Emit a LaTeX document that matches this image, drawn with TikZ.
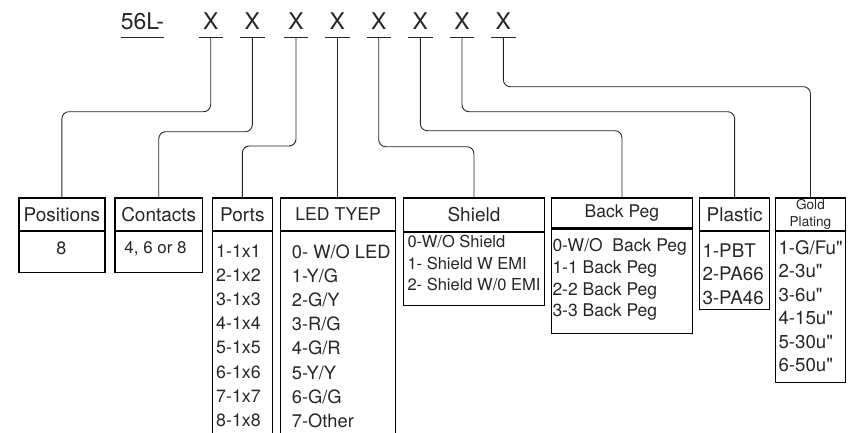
\documentclass[tikz,border=0pt]{standalone}
\usepackage{fontspec}
\setmainfont{TeX Gyre Heros}
\begin{document}
\begin{tikzpicture}[x=1pt,y=-1pt,
  big/.style={font=\fontsize{23}{27}\selectfont, text=black!85, inner sep=0pt, text height=17pt, text depth=8.4pt},
  box/.style={draw=black, line width=1.2pt, inner sep=0pt, anchor=north west, text=black!85},
  hd/.style={font=\fontsize{19}{22}\selectfont},
  txt/.style={inner sep=0pt, text=black!85, align=left, anchor=north west},
  conn/.style={draw=black!85, line width=0.9pt, rounded corners=7pt},
  ul/.style={draw=black!85, line width=0.9pt}]
\useasboundingbox (0,0) rectangle (848,432);
\clip (0,0) rectangle (848,432);

% code header
\node[big, anchor=base west] (code) at (120.7,29.3) {56L-};
\draw[ul] (code.south west) -- (code.south east);
\foreach \i/\x in {1/210.7,2/252.3,3/296,4/337.3,5/378.7,6/420.3,7/462,8/503.3}{
  \node[big, anchor=base, minimum width=24pt] (x\i) at (\x,29.3) {X};
  \draw[ul] (x\i.south west) -- (x\i.south east);
}

% boxes
\node[box, hd, minimum width=86pt, minimum height=32.7pt] (posh) at (18.3,197.3) {Positions};
\node[box, minimum width=86pt, minimum height=40.7pt] (posb) at (posh.south west) {};
\node[box, hd, minimum width=87.7pt, minimum height=32.7pt] (conh) at (114.3,197.3) {Contacts};
\node[box, minimum width=87.7pt, minimum height=40.7pt] (conb) at (conh.south west) {};
\node[box, hd, minimum width=60pt, minimum height=32.7pt] (porh) at (211.7,197.3) {Ports};
\node[box, minimum width=60pt, minimum height=215pt] (porb) at (porh.south west) {};
\node[box, font=\fontsize{17.6}{21}\selectfont, minimum width=115pt, minimum height=32.7pt] (ledh) at (280,197.3) {LED TYEP};
\node[box, minimum width=115pt, minimum height=215pt] (ledb) at (ledh.south west) {};
\node[box, hd, minimum width=141.3pt, minimum height=33.4pt] (shih) at (402.7,197.3) {Shield};
\node[box, minimum width=141.3pt, minimum height=73.3pt] (shib) at (shih.south west) {};
\node[box, font=\fontsize{17.5}{21}\selectfont, minimum width=141.3pt, minimum height=30pt] (bach) at (550.7,197.3) {Back Peg};
\node[box, minimum width=141.3pt, minimum height=104.4pt] (bacb) at (bach.south west) {};
\node[box, hd, minimum width=70pt, minimum height=32.7pt] (plah) at (699,197.3) {Plastic};
\node[box, minimum width=70pt, minimum height=77.3pt] (plab) at (plah.south west) {};
\node[box, font=\fontsize{13.6}{17.3}\selectfont, align=center, minimum width=70.3pt, minimum height=32.7pt] (golh) at (774.7,197.3) {Gold\\Plating};
\node[box, minimum width=70.3pt, minimum height=151pt] (golb) at (golh.south west) {};

% contents
\node[txt, anchor=center, font=\fontsize{18}{22}\selectfont] (posv) at (61.3,248.3) {8};
\node[txt, anchor=center, font=\fontsize{16.9}{20}\selectfont] (conv) at (155.5,248.3) {4, 6 or 8};
\node[txt, font=\fontsize{17.8}{24.2}\selectfont] (porv) at (216,244.3) {1-1x1\\2-1x2\\3-1x3\\4-1x4\\5-1x5\\6-1x6\\7-1x7\\8-1x8};
\node[txt, font=\fontsize{18.3}{24.2}\selectfont] (ledv) at (291.7,244.2) {0- W/O LED\\1-Y/G\\2-G/Y\\3-R/G\\4-G/R\\5-Y/Y\\6-G/G\\7-Other};
\node[txt, font=\fontsize{16.5}{21.7}\selectfont] (shiv) at (407.3,235) {0-W/O Shield\\1- Shield W EMI\\2- Shield W/0 EMI};
\node[txt, font=\fontsize{17.5}{21.9}\selectfont] (bacv) at (552.3,238) {0-W/O\ \ Back Peg\\1-1 Back Peg\\2-2 Back Peg\\3-3 Back Peg};
\node[txt, font=\fontsize{18.8}{23.7}\selectfont] (plav) at (702.3,243.2) {1-PBT\\2-PA66\\3-PA46};
\node[txt, font=\fontsize{18.7}{23.5}\selectfont] (golv) at (778.3,240) {1-G/Fu\textquotedbl\\2-3u\textquotedbl\\3-6u\textquotedbl\\4-15u\textquotedbl\\5-30u\textquotedbl\\6-50u\textquotedbl};

% connectors
\draw[conn] (x1.south) -- (x1.south |- 0,111.7) -| (posh.north);
\draw[conn] (x2.south) -- (x2.south |- 0,131.7) -| (conh.north);
\draw[conn] (x3.south) -- (x3.south |- 0,146) -| (porh.north);
\draw[conn] (x4.south) -- (x4.south |- ledh.north);
\draw[conn] (x5.south) -- (x5.south |- 0,146.7) -| (shih.north);
\draw[conn] (x6.south) -- (x6.south |- 0,130.7) -| (bach.north);
\draw[conn] (x7.south) -- (x7.south |- 0,111.7) -| (plah.north);
\draw[conn] (x8.south) -- (x8.south |- 0,86.7) -| (golh.north);
\end{tikzpicture}
\end{document}
